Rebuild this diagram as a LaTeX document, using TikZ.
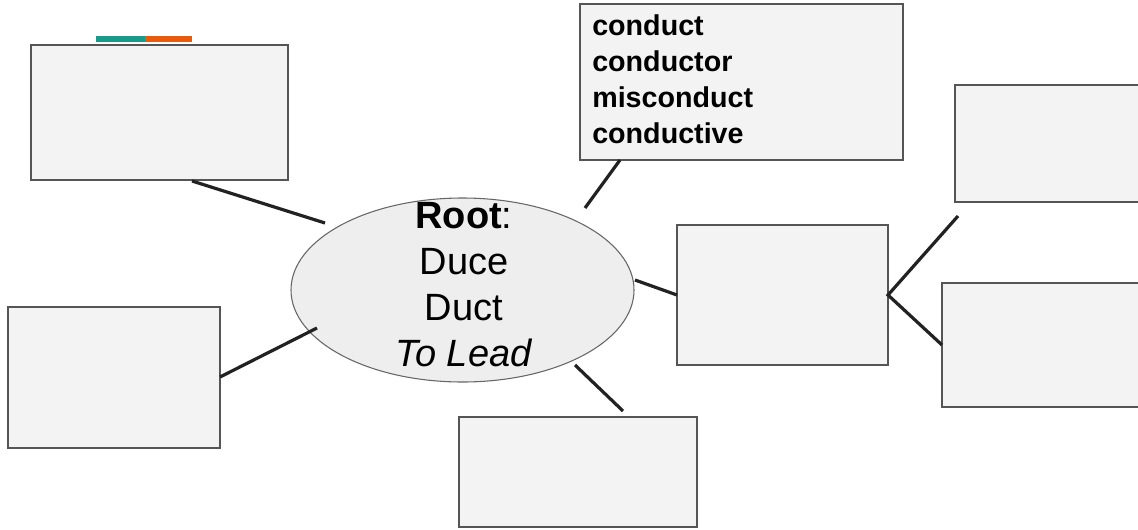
\documentclass[tikz,border=0pt]{standalone}
\usepackage{fontspec}
\setmainfont{Liberation Sans}
\usetikzlibrary{fit,shapes.geometric}
\definecolor{boxfill}{HTML}{F3F3F3}
\definecolor{boxline}{HTML}{555555}
\definecolor{ellfill}{HTML}{EEEEEE}
\definecolor{ellline}{HTML}{666666}
\definecolor{conncol}{HTML}{222222}
\definecolor{barteal}{HTML}{1A9A88}
\definecolor{barorange}{HTML}{E95B0C}
\tikzset{
 box/.style={draw=boxline, fill=boxfill, line width=1.1pt, inner sep=0pt, rectangle},
 rootell/.style={ellipse, draw=ellline, fill=ellfill, line width=0.8pt, inner sep=0pt, minimum width=257.25pt, minimum height=138pt},
 conn/.style={draw=conncol, line width=2.4pt},
 words/.style={font=\fontsize{21.5pt}{27pt}\selectfont\bfseries, align=left, inner sep=0pt, anchor=north west},
 roottext/.style={font=\fontsize{28.5pt}{34.5pt}\selectfont, align=center, inner sep=0pt, anchor=north},
}
\begin{document}
\begin{tikzpicture}[x=0.75pt,y=-0.75pt]
\useasboundingbox (0,0) rectangle (1138,529);
\fill[white] (0,0) rectangle (1138,529);
% colour bar
\fill[barteal] (96,36) rectangle (145,42);
\fill[barorange] (145,36) rectangle (192,42);
% boxes
\node[box, fit={(31,45) (288,180)}] (tl) {};
\node[box, fit={(8,307) (220,448)}] (lb) {};
\node[box, fit={(580,4) (903,160)}] (top) {};
\node[box, fit={(677,225) (888,365)}] (mr) {};
\node[box, fit={(955,85) (1150,202)}] (rt) {};
\node[box, fit={(942,283) (1150,407)}] (rb) {};
\node[box, fit={(459,417) (697,527)}] (bot) {};
% root ellipse
\node[rootell] (root) at (462.5,290) {};
\node[roottext] (roottxt) at (464,202.5) {\textbf{Root}:\\Duce\\Duct\\\textit{To Lead}};
% words
\node[words] (wordlist) at (592,14.3) {conduct\\conductor\\misconduct\\conductive};
% connector end points
\coordinate (a1) at (192,181);
\coordinate (a2) at (325,223);
\coordinate (b1) at (220,377);
\coordinate (b2) at (317,328);
\coordinate (c1) at (585,208);
\coordinate (c2) at (620,160);
\coordinate (d1) at (635,280);
\coordinate (d2) at (677,295);
\coordinate (e1) at (575,365);
\coordinate (e2) at (623,411);
\coordinate (f0) at (888,295);
\coordinate (f1) at (958,216);
\coordinate (f2) at (942,345);
% connectors
\draw[conn] (a1) -- (a2);
\draw[conn] (b1) -- (b2);
\draw[conn] (c1) -- (c2);
\draw[conn] (d1) -- (d2);
\draw[conn] (e1) -- (e2);
\draw[conn] (f1) -- (f0) -- (f2);
\end{tikzpicture}
\end{document}
